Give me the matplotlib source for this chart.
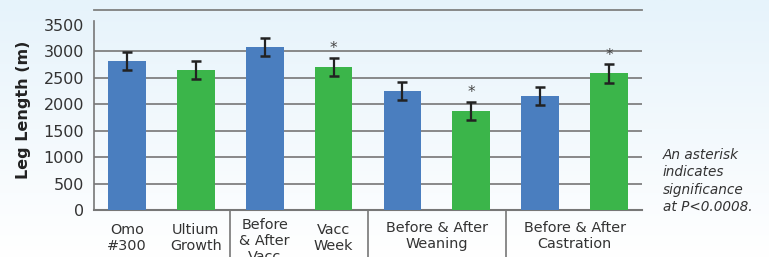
import numpy as np
import matplotlib.pyplot as plt
from matplotlib.colors import LinearSegmentedColormap

# data
labels = ["Omo\n#300", "Ultium\nGrowth", "Before\n& After\nVacc", "Vacc\nWeek"]
group_labels = ["Before & After\nWeaning", "Before & After\nCastration"]
values = [2820, 2650, 3080, 2700, 2250, 1870, 2150, 2580]
errors = [175, 175, 170, 175, 170, 175, 170, 175]
signif = [False, False, False, True, False, True, False, True]
bar_colors = ["#4a7ebf", "#3bb54a", "#4a7ebf", "#3bb54a",
              "#4a7ebf", "#3bb54a", "#4a7ebf", "#3bb54a"]
yticks = [0, 500, 1000, 1500, 2000, 2500, 3000, 3500]
note = "An asterisk\nindicates\nsignificance\nat P<0.0008."

W, H = 769, 257
fig = plt.figure(figsize=(W/100, H/100), dpi=100)

# background gradient, light blue at top to white at bottom
bg = fig.add_axes([0, 0, 1, 1])
bg.axis("off")
cmap = LinearSegmentedColormap.from_list("bg", ["#ffffff", "#e6f3fb"])
grad = np.linspace(0, 1, 256).reshape(-1, 1)
bg.imshow(grad, aspect="auto", cmap=cmap, origin="lower", extent=[0, 1, 0, 1])
bg.set_xlim(0, 1)
bg.set_ylim(0, 1)

x0, x1 = 94, 642
ytop, ybot = 10, 210
ax = fig.add_axes([x0/W, 1 - ybot/H, (x1 - x0)/W, (ybot - ytop)/H])
ax.patch.set_alpha(0)

x = np.arange(len(values))
ax.bar(x, values, width=0.55, color=bar_colors, zorder=3)
ax.errorbar(x, values, yerr=errors, fmt="none", ecolor="#222222",
            elinewidth=1.6, capsize=3.5, capthick=1.8, zorder=4)
for xi, v, e, s in zip(x, values, errors, signif):
    if s:
        ax.text(xi, v + e + 30, "*", ha="center", va="bottom",
                fontsize=11, color="#444444", zorder=5)

ax.set_xlim(-0.475, 7.475)
ax.set_ylim(0, 3780)
ax.set_yticks(yticks)
ax.set_yticklabels([str(t) for t in yticks], fontsize=11.5, color="#333333")
ax.tick_params(axis="y", length=0, pad=7)
ax.tick_params(axis="x", length=0, labelbottom=False)

for t in yticks[1:-1]:
    ax.axhline(t, color="#808080", lw=1.3, zorder=1)
ax.axhline(3780, color="#808080", lw=1.3, zorder=1, clip_on=False)

for sp in ["top", "right"]:
    ax.spines[sp].set_visible(False)
ax.spines["left"].set_color("#777777")
ax.spines["left"].set_linewidth(1.2)
ax.spines["left"].set_bounds(0, 3570)
ax.spines["bottom"].set_color("#777777")
ax.spines["bottom"].set_linewidth(1.5)

ax.set_ylabel("Leg Length (m)", fontsize=11.5, fontweight="bold",
              color="#222222", labelpad=9)

# category labels under the axis
trans = ax.get_xaxis_transform()
for i, lab in enumerate(labels):
    yy = -0.155 if i == 2 else -0.14
    ax.text(x[i], yy, lab, transform=trans, ha="center", va="center",
            fontsize=10.4, color="#333333", linespacing=1.2)
for j, lab in enumerate(group_labels):
    ax.text(4.5 + 2 * j, -0.13, lab, transform=trans, ha="center", va="center",
            fontsize=10.4, color="#333333", linespacing=1.2)

# separators below the axis
for sx in [1.5, 3.5, 5.5]:
    ax.plot([sx, sx], [0, -0.3], transform=trans, color="#777777",
            lw=1.2, clip_on=False)

fig.text(663/W, 1 - 148/H, note, ha="left", va="top", fontsize=9.8,
         style="italic", color="#333333", linespacing=1.3)

fig.savefig("out.png", dpi=100)
